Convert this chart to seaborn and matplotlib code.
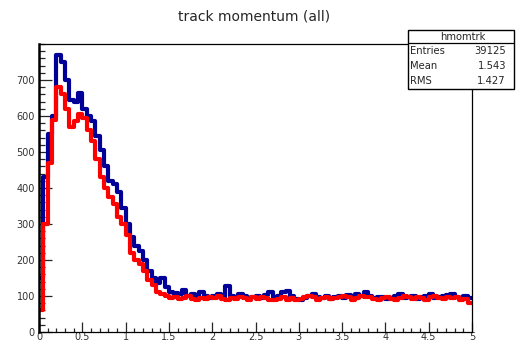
import numpy as np
import pandas as pd
import matplotlib
matplotlib.use("Agg")
import matplotlib.pyplot as plt
import seaborn as sns
from matplotlib.ticker import MultipleLocator
from matplotlib.patches import Rectangle

# ---- data (100 bins, 0..5) ----
n_bins = 100
x_range = (0, 5)
blue_counts = [
    150, 430, 550, 600, 770, 750, 700, 645, 640, 665,
    620, 600, 585, 545, 505, 460, 420, 410, 390, 345,
    300, 265, 240, 225, 200, 170, 150, 135, 150, 125,
    112, 108, 105, 118, 100, 105, 98, 110, 100, 95,
    100, 105, 95, 128, 100, 95, 105, 100, 92, 98,
    100, 95, 102, 110, 95, 100, 112, 115, 100, 92,
    88, 95, 100, 105, 98, 95, 100, 92, 96, 100,
    95, 102, 98, 105, 100, 110, 100, 95, 96, 98,
    92, 95, 100, 105, 95, 98, 100, 92, 96, 100,
    105, 95, 98, 100, 102, 105, 98, 95, 100, 95,
]
red_counts = [
    60, 300, 470, 590, 680, 660, 620, 570, 585, 605,
    595, 560, 530, 480, 430, 400, 375, 355, 320, 300,
    270, 220, 200, 190, 170, 145, 130, 110, 105, 100,
    95, 98, 92, 95, 100, 92, 88, 95, 92, 98,
    95, 100, 92, 88, 95, 92, 98, 94, 90, 96,
    92, 98, 95, 90, 88, 92, 96, 90, 95, 88,
    92, 98, 100, 96, 90, 94, 98, 92, 95, 98,
    100, 96, 90, 95, 100, 96, 98, 92, 88, 94,
    96, 92, 90, 95, 100, 96, 92, 98, 95, 90,
    96, 100, 95, 92, 98, 94, 96, 90, 92, 80,
]
x_tick_values = [0, 0.5, 1, 1.5, 2, 2.5, 3, 3.5, 4, 4.5, 5]
x_tick_labels = ["0", "0.5", "1", "1.5", "2", "2.5", "3", "3.5", "4", "4.5", "5"]
y_tick_values = [0, 100, 200, 300, 400, 500, 600, 700]
title = "track momentum (all)"
stats_name = "hmomtrk"
stats_rows = [("Entries", "39125"), ("Mean", "1.543"), ("RMS", "1.427")]

edges = np.linspace(x_range[0], x_range[1], n_bins + 1)
centers = (edges[:-1] + edges[1:]) / 2
df_blue = pd.DataFrame({"p": centers, "w": blue_counts})
df_red = pd.DataFrame({"p": centers, "w": red_counts})

sns.set_style("white")
plt.rcParams['font.family'] = ['DejaVu Sans']

fig = plt.figure(figsize=(5.16, 3.42), dpi=100)
ax = fig.add_axes([39/516, 1-332/342, (472-39)/516, (332-44)/342])

sns.histplot(data=df_blue, x="p", weights="w", bins=n_bins, binrange=x_range,
             element="step", fill=False, color="#000099", linewidth=3.0, ax=ax)
sns.histplot(data=df_red, x="p", weights="w", bins=n_bins, binrange=x_range,
             element="step", fill=False, color="#ff0000", linewidth=3.0, ax=ax)

ax.set_xlim(0, 5)
ax.set_ylim(0, 800)
ax.set_xlabel("")
ax.set_ylabel("")
ax.xaxis.set_minor_locator(MultipleLocator(0.1))
ax.yaxis.set_minor_locator(MultipleLocator(20))
ax.set_yticks(y_tick_values)
ax.set_xticks(x_tick_values)
ax.set_xticklabels(x_tick_labels)
ax.tick_params(which="both", labelsize=7, labelcolor="#333333", direction="in", width=0.9)
ax.tick_params(axis="x", which="major", length=7.5, pad=0)
ax.tick_params(axis="x", which="minor", length=3)
ax.tick_params(axis="y", which="major", length=9, pad=3)
ax.tick_params(axis="y", which="minor", length=4.5)
ax.tick_params(axis="x", which="both", bottom=True, top=False)
ax.tick_params(axis="y", which="both", left=True, right=False)
for sp in ax.spines.values():
    sp.set_color("black")
    sp.set_linewidth(0.9)
ax.spines["left"].set_linewidth(1.8)

fig.text(254/516, 1-17/342, title, ha="center", va="center", fontsize=10)

# stats box
bx0, bx1 = 408/516, 514/516
by_top, by_hdr, by_bot = 1-30/342, 1-43/342, 1-89/342
fig.patches.append(Rectangle((bx0, by_bot), bx1-bx0, by_top-by_bot,
                             transform=fig.transFigure, facecolor="white",
                             edgecolor="black", linewidth=1.0, zorder=5))
fig.lines.append(plt.Line2D([bx0, bx1], [by_hdr, by_hdr], transform=fig.transFigure,
                            color="black", linewidth=0.9, zorder=6))
fig.text((bx0+bx1)/2 + 2/516, (by_top+by_hdr)/2, stats_name, ha="center", va="center",
         fontsize=7.2, zorder=7)
row_h = (by_hdr - by_bot) / 3
for k, (lab, val) in enumerate(stats_rows):
    yy = by_hdr - row_h*(k+0.5)
    fig.text(410/516, yy, lab, ha="left", va="center", fontsize=7.2, zorder=7)
    fig.text(506/516, yy, val, ha="right", va="center", fontsize=7.2, zorder=7)

fig.savefig("out.png", dpi=100)
